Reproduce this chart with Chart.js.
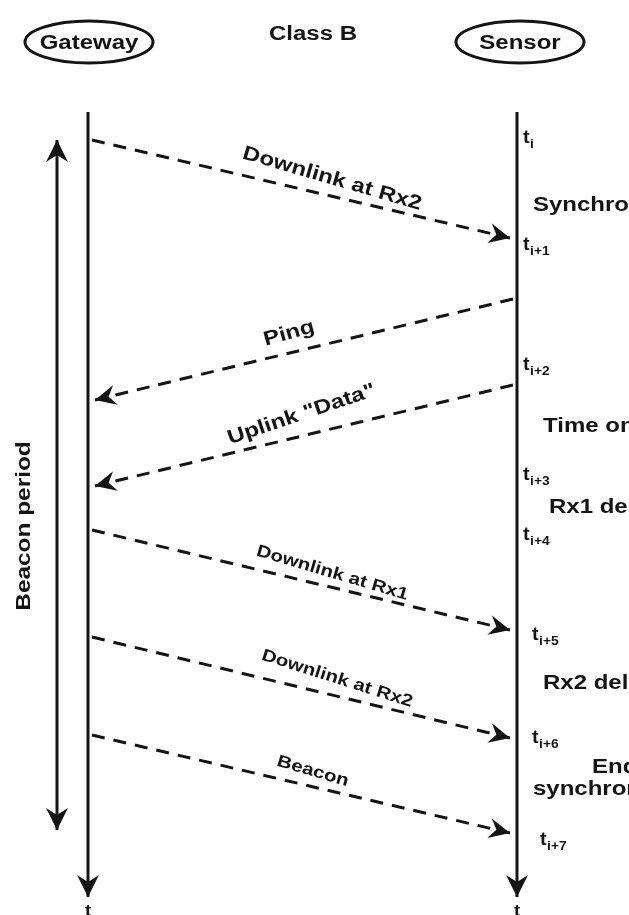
<!DOCTYPE html>
<html><head><meta charset="utf-8">
<script src="https://cdn.jsdelivr.net/npm/chart.js@4/dist/chart.umd.min.js"></script>
<style>html,body{margin:0;padding:0;background:#fff;overflow:hidden}canvas{display:block}</style>
</head><body><canvas id="c" width="629" height="915"></canvas>
<script>
// ---- DATA ----
const title = 'Class B';
const lanes = ['Gateway', 'Sensor'];
const laneX = [88, 517];
const lifeline = [112, 897];
const beaconPeriod = [140, 830];
const beaconLabel = 'Beacon period';
const msgLabels = ['Downlink at Rx2', 'Ping', 'Uplink "Data"', 'Downlink at Rx1', 'Downlink at Rx2', 'Beacon'];
const msgFrom = [0, 1, 1, 0, 0, 0];
const msgTo = [1, 0, 0, 1, 1, 1];
const msgSendT = [140, 299, 385, 530, 637, 735];
const msgRecvT = [238, 400, 486, 630, 738, 833];
const tickSubs = ['i', 'i+1', 'i+2', 'i+3', 'i+4', 'i+5', 'i+6', 'i+7'];
const tickT = [140, 247, 367, 477, 537, 637, 740, 842];
const phaseLabels = ['Synchronization', 'Time on air', 'Rx1 delay', 'Rx2 delay', 'End of', 'synchronization'];
const phaseT = [205, 426, 507, 683, 767, 789];
const axisLabel = 't';

// ---- STYLE ----
const INK = '#141414';
const FONT = '"Liberation Sans", Arial, Helvetica, sans-serif';
const SX = 1.2;               // horizontal stretch of the source image text
const beaconX = 57;
const msgStartGap = 4, msgEndGap = 7;
const labelFrac = [0.565, 0.525, 0.494, 0.567, 0.577, 0.52];
const labelLift = [17, 19, 21, 14, 17, 15];
const labelTilt = [3, 2, 5, 3, 4, 3];
const labelSize = [20, 20, 20, 17, 17, 17];
const tickDx = [6, 6, 6, 6, 6, 15, 15, 23];
const phaseDx = [16, 26, 32, 26, 75, 16];
const headerY = 42, titleY = 34;

// ---- DATASETS ----
const datasets = [];
laneX.forEach((x, i) => datasets.push({
  id: 'life' + i, data: [{x, y: lifeline[0]}, {x, y: lifeline[1]}],
  borderColor: INK, borderWidth: 3, showLine: true, pointRadius: 0, arrow: 'end', arrowSize: [22, 11, 7]
}));
datasets.push({
  id: 'beacon', data: [{x: beaconX, y: beaconPeriod[0]}, {x: beaconX, y: beaconPeriod[1]}],
  borderColor: INK, borderWidth: 3, showLine: true, pointRadius: 0, arrow: 'both', arrowSize: [22, 11, 7]
});
msgLabels.forEach((lab, i) => {
  const x0 = laneX[msgFrom[i]], x1 = laneX[msgTo[i]];
  const dir = Math.sign(x1 - x0);
  datasets.push({
    id: 'msg' + i, label: lab,
    data: [{x: x0 + dir * msgStartGap, y: msgSendT[i]}, {x: x1 - dir * msgEndGap, y: msgRecvT[i]}],
    borderColor: INK, borderWidth: 3, borderDash: [13, 9], showLine: true, pointRadius: 0,
    arrow: 'end', arrowSize: [21, 10, 7], msgIndex: i
  });
});

function txt(ctx, s, x, y, size, opt = {}) {
  ctx.save();
  ctx.translate(x, y);
  if (opt.rot) ctx.rotate(opt.rot);
  ctx.scale(opt.sx || SX, 1);
  ctx.font = (opt.weight || 'bold') + ' ' + size + 'px ' + FONT;
  ctx.fillStyle = INK;
  ctx.textAlign = opt.align || 'left';
  ctx.textBaseline = opt.baseline || 'middle';
  ctx.fillText(s, 0, 0);
  const w = ctx.measureText(s).width * (opt.sx || SX);
  ctx.restore();
  return w;
}
function arrowHead(ctx, tx, ty, ang, L, W, n) {
  const c = Math.cos(ang), s = Math.sin(ang);
  ctx.beginPath();
  ctx.moveTo(tx, ty);
  ctx.lineTo(tx - L * c - W * s, ty - L * s + W * c);
  ctx.lineTo(tx - (L - n) * c, ty - (L - n) * s);
  ctx.lineTo(tx - L * c + W * s, ty - L * s - W * c);
  ctx.closePath();
  ctx.fillStyle = INK;
  ctx.fill();
}

const diagram = {
  id: 'diagram',
  afterDatasetsDraw(chart) {
    const ctx = chart.ctx, xs = chart.scales.x, ys = chart.scales.y;
    const X = v => xs.getPixelForValue(v), Y = v => ys.getPixelForValue(v);
    chart.data.datasets.forEach((ds, di) => {
      const pts = chart.getDatasetMeta(di).data;
      if (!ds.arrow || pts.length < 2) return;
      const [L, W, n] = ds.arrowSize;
      const a = pts[0], b = pts[pts.length - 1];
      const ang = Math.atan2(b.y - a.y, b.x - a.x);
      arrowHead(ctx, b.x, b.y, ang, L, W, n);
      if (ds.arrow === 'both') arrowHead(ctx, a.x, a.y, ang + Math.PI, L, W, n);
      if (ds.msgIndex !== undefined) {
        const i = ds.msgIndex;
        const p = {x: a.x + (b.x - a.x) * labelFrac[i], y: a.y + (b.y - a.y) * labelFrac[i]};
        let th = ang;
        if (Math.cos(th) < 0) th += Math.PI;
        if (th > Math.PI) th -= 2 * Math.PI;
        const nx = Math.sin(th), ny = -Math.cos(th);
        const cx = p.x + nx * labelLift[i], cy = p.y + ny * labelLift[i];
        const rot = th + Math.sign(th) * labelTilt[i] * Math.PI / 180;
        txt(ctx, msgLabels[i], cx, cy, labelSize[i], {rot, align: 'center'});
      }
    });
    // header
    ctx.save();
    ctx.lineWidth = 3; ctx.strokeStyle = INK;
    laneX.forEach((x, i) => {
      const cx = X(x) + (i ? 3 : 1);
      ctx.beginPath();
      ctx.ellipse(cx, Y(headerY), 64, 21, 0, 0, Math.PI * 2);
      ctx.stroke();
      txt(ctx, lanes[i], cx, Y(headerY) + 1, 20, {align: 'center'});
    });
    ctx.restore();
    txt(ctx, title, 313, Y(titleY), 20, {align: 'center'});
    // beacon period label
    txt(ctx, beaconLabel, 24, Y(526), 20, {rot: -Math.PI / 2, align: 'center', sx: 1.22});
    // time axis labels
    laneX.forEach(x => txt(ctx, axisLabel, X(x), Y(lifeline[1]) + 6, 17, {align: 'center', baseline: 'top', sx: 1.1}));
    // ticks on sensor
    const sxl = laneX[1];
    tickT.forEach((t, i) => {
      const x0 = X(sxl) + tickDx[i], y0 = Y(t);
      const w = txt(ctx, 't', x0, y0 - 2, 18, {sx: 1.1});
      txt(ctx, tickSubs[i], x0 + w + 0.5, y0 + 5, 12, {sx: 1.15});
    });
    phaseLabels.forEach((p, i) => txt(ctx, p, X(sxl) + phaseDx[i], Y(phaseT[i]), 20));
  }
};

new Chart(document.getElementById('c').getContext('2d'), {
  type: 'scatter',
  data: {datasets},
  options: {
    responsive: false, animation: false, devicePixelRatio: 1, events: [],
    layout: {padding: 0},
    plugins: {legend: {display: false}, tooltip: {enabled: false}},
    scales: {
      x: {type: 'linear', min: 0, max: 629, display: false},
      y: {type: 'linear', min: 0, max: 915, reverse: true, display: false}
    },
    elements: {line: {tension: 0}}
  },
  plugins: [diagram]
});
</script></body></html>
